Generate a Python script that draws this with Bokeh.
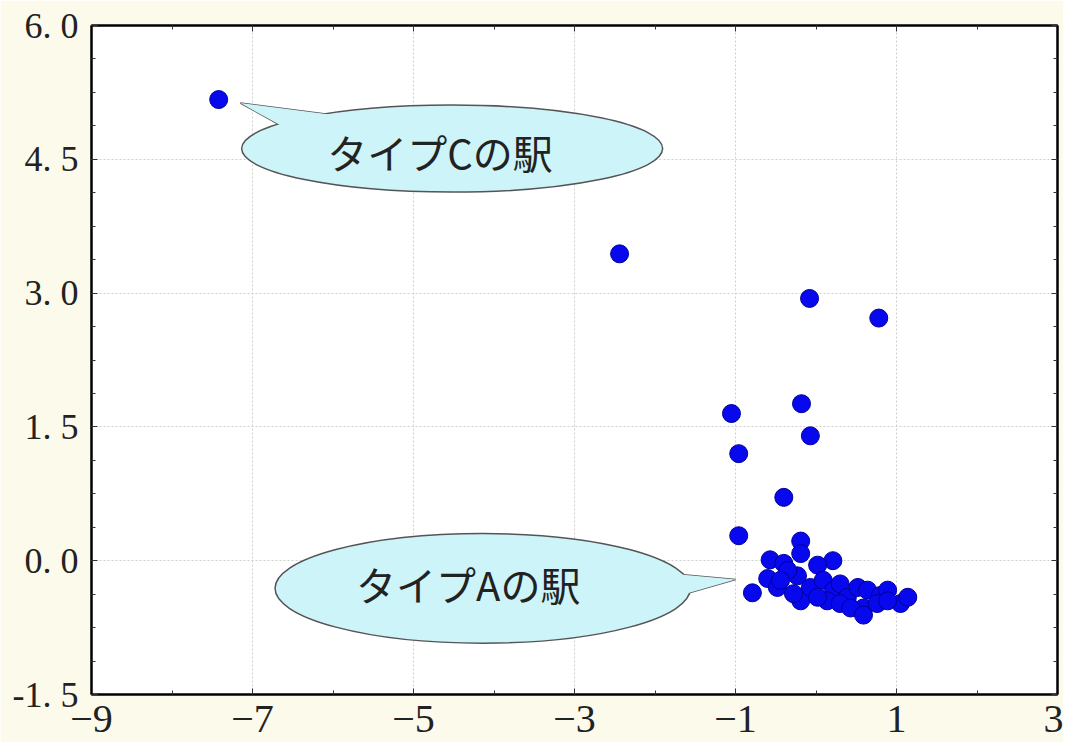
from bokeh.plotting import figure
from bokeh.models import LinearAxis, Range1d, FixedTicker, CustomJSTickFormatter
from bokeh.core.properties import value
from bokeh.embed import file_html
from bokeh.resources import INLINE

# ---- data ----
x_vals = [-7.42, -2.44, -0.08, 0.78, -1.05, -0.18, -0.07, -0.96, -0.40, -0.96, -0.19,
          -0.57, -0.19, 0.21, 0.02, -0.40, -0.60, -0.79, -0.48, -0.23, -0.19, -0.07,
          0.09, 0.22, 0.30, 0.39, 0.52, 0.59, 0.64, 0.80, 1.05, 1.14, 0.89, 0.14,
          0.30, 0.02, 0.43, 0.59, -0.35, -0.44, -0.28, 0.76, 0.89]
y_vals = [5.17, 3.44, 2.94, 2.72, 1.65, 1.76, 1.40, 1.20, 0.71, 0.28, 0.22,
          0.01, 0.08, 0.00, -0.05, -0.03, -0.20, -0.36, -0.30, -0.17, -0.45, -0.30,
          -0.22, -0.33, -0.26, -0.41, -0.30, -0.53, -0.33, -0.39, -0.48, -0.41, -0.33, -0.45,
          -0.48, -0.41, -0.53, -0.61, -0.11, -0.22, -0.37, -0.48, -0.45]

x_ticks = [-9, -7, -5, -3, -1, 1, 3]
x_tick_labels = ["\u22129", "\u22127", "\u22125", "\u22123", "\u22121", "1", "3"]
y_ticks = [-1.5, 0.0, 1.5, 3.0, 4.5, 6.0]
y_tick_labels = ["-1. 5", "0. 0", "1. 5", "3. 0", "4. 5", "6. 0"]

callout_texts = ["タイプCの駅", "タイプAの駅"]
callout_cx = [-4.52, -4.14]
callout_cy = [4.62, -0.31]
callout_w = [5.23, 5.16]
callout_h = [0.975, 1.23]
text_x = [-4.67, -4.32]
text_y = [4.58, -0.26]
tail_xs = [[-7.15, -5.85, -6.59], [-1.00, -1.99, -1.81]]
tail_ys = [[5.13, 4.98, 4.85], [-0.21, -0.13, -0.42]]

SERIF = "'Liberation Serif', 'Times New Roman', serif"

# ---- figure ----
p = figure(frame_width=966, frame_height=669,
           x_range=Range1d(-9, 3), y_range=Range1d(-1.5, 6),
           output_backend="svg", toolbar_location=None,
           min_border_left=91, min_border_top=25, min_border_bottom=48, min_border_right=6,
           background_fill_color="white", border_fill_color="#fcfaea")
p.outline_line_color = "black"
p.outline_line_width = 2

bottom = p.below[0]
left = p.left[0]

x_minor = [-8, -6, -4, -2, 0, 2]
y_minor = [y_ticks[0] + 0.375 * i for i in range(21)]
xt = FixedTicker(ticks=x_ticks, minor_ticks=x_minor)
yt = FixedTicker(ticks=y_ticks, minor_ticks=y_minor)

def fmt(ticks, labels):
    return CustomJSTickFormatter(args=dict(t=ticks, l=labels), code="""
        let best = 0, d = 1e9;
        for (let i = 0; i < t.length; i++) { const e = Math.abs(t[i] - tick); if (e < d) { d = e; best = i; } }
        return l[best];
    """)

blank = CustomJSTickFormatter(code="return '';")

bottom.ticker = xt
left.ticker = yt
bottom.formatter = fmt(x_ticks, x_tick_labels)
left.formatter = fmt(y_ticks, y_tick_labels)

top = LinearAxis(ticker=xt, formatter=blank)
right = LinearAxis(ticker=yt, formatter=blank)
p.add_layout(top, "above")
p.add_layout(right, "right")

for ax in [bottom, left, top, right]:
    ax.axis_line_color = "black"
    ax.axis_line_width = 2
    ax.major_tick_in = 6
    ax.major_tick_out = 0
    ax.minor_tick_in = 4
    ax.minor_tick_out = 0
    ax.major_tick_line_color = "#333333"
    ax.minor_tick_line_color = "#333333"
    ax.major_label_text_font = SERIF
    ax.major_label_text_color = "#222222"

bottom.major_label_text_font_size = "40px"
bottom.major_label_standoff = 11
left.major_label_text_font_size = "36px"
left.major_label_standoff = 13
top.major_label_text_font_size = "1px"
right.major_label_text_font_size = "1px"
top.major_label_standoff = 0
right.major_label_standoff = 0

p.xgrid.ticker = FixedTicker(ticks=x_ticks)
p.ygrid.ticker = FixedTicker(ticks=y_ticks)
p.grid.grid_line_color = "#cfcfcf"
p.grid.grid_line_dash = "2 2"
p.grid.grid_line_width = 1

# ---- callouts ----
fill = "#cdf4f8"
edge = "#555555"
p.patches(xs=tail_xs, ys=tail_ys, fill_color=fill, line_color=edge, line_width=1.5)
p.ellipse(x=callout_cx, y=callout_cy, width=callout_w, height=callout_h,
          fill_color=fill, line_color=edge, line_width=1.5)
p.patches(xs=tail_xs, ys=tail_ys, fill_color=fill, line_color=None)
p.text(x=text_x, y=text_y, text=callout_texts, text_font=value("Noto Sans CJK JP"),
       text_font_size="40px", text_align="center", text_baseline="middle",
       text_color="#222222")

# ---- points ----
p.scatter(x=x_vals, y=y_vals, size=18, fill_color="#0808ee", line_color="#00009a", line_width=1)

open("out.html", "w").write(file_html(p, INLINE))
